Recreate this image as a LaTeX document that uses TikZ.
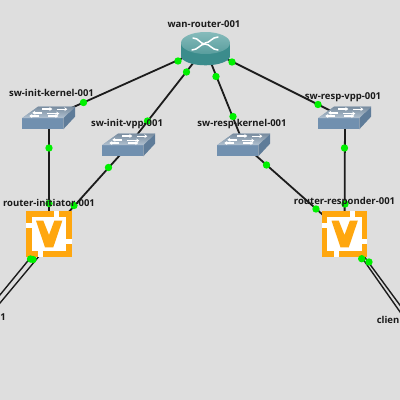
\documentclass[tikz,border=0pt]{standalone}
\usepackage{fontspec}
\setmainfont{Open Sans}
\usetikzlibrary{arrows.meta}
\definecolor{bgc}{HTML}{DEDEDE}
\definecolor{linkc}{HTML}{1C1C1C}
\definecolor{dotc}{HTML}{00F000}
\definecolor{labc}{HTML}{1A1A1A}
\definecolor{swtop}{HTML}{8FA6BC}
\definecolor{swfront}{HTML}{7190AF}
\definecolor{swside}{HTML}{5F7C99}
\definecolor{rtdark}{HTML}{3B8C8C}
\definecolor{rtlight}{HTML}{86BBBB}
\definecolor{vorange}{HTML}{FFA70F}
\tikzset{
  link/.style={draw=linkc,line width=1.8pt},
  dot/.style={circle,fill=dotc,minimum size=7.4pt,inner sep=0pt,draw=none},
  lab/.style={font=\fontsize{9.5}{11}\selectfont\bfseries,text=labc,inner sep=0pt},
  arrowmark/.style={draw=white,line width=1.4pt,-{Stealth[length=3pt,width=4pt]}}
}
\newcommand{\swicon}[2]{%
  \begin{scope}[shift={(#1,#2)}]
    \fill[swside] (41,0) -- (41,11.3) -- (52.7,-1.3) -- (52.7,-11.3) -- cycle;
    \fill[swfront] (0,0) rectangle (41,11.3);
    \fill[swtop,bottom color=swtop!70!white,top color=swtop!85!black] (0,0) -- (15.7,-11.3) -- (52.7,-11.3) -- (41,0) -- cycle;
    \draw[arrowmark] (20,-9) -- (30,-9);
    \draw[arrowmark] (35,-8.8) -- (45,-8.8);
    \draw[arrowmark] (20,-5.2) -- (10,-5.2);
    \draw[arrowmark] (25,-4.4) -- (37,-4.4);
    \draw[arrowmark] (17,-2) -- (7,-2);
    \draw[arrowmark] (26,-2) -- (36,-2);
  \end{scope}}
\newcommand{\vicon}[2]{%
  \begin{scope}[shift={(#1,#2)}]
    \fill[vorange] (0,0) rectangle (45.7,45.7);
    \fill[white] (5.7,5.7) rectangle (40,39.7);
    \fill[white] (28.3,0) rectangle (33.3,6);
    \fill[white] (39.7,28.3) rectangle (45.7,33);
    \fill[white] (12.3,39.5) rectangle (17.3,45.7);
    \fill[white] (0,12.3) rectangle (6,17.3);
    \fill[vorange] (10,9.7) -- (17.3,9.7) -- (23,24) -- (28.3,9.7) -- (36.3,9.7) -- (27.3,36.3) -- (19,36.3) -- cycle;
  \end{scope}}
\begin{document}
\begin{tikzpicture}[x=1pt,y=-1pt]
\useasboundingbox (0,0) rectangle (400,400);
\fill[bgc] (0,0) rectangle (400,400);
\coordinate (wan) at (205,48);
\coordinate (swik) at (49,118);
\coordinate (swiv) at (129,145);
\coordinate (swrk) at (244,145);
\coordinate (swrv) at (345,118);
\coordinate (rti) at (49,234);
\coordinate (rtr) at (344.5,234);
\coordinate (cliA) at (-5,301);
\coordinate (cliB) at (-5,309);
\coordinate (criA) at (405,319);
\coordinate (criB) at (405,312);
\coordinate (rtiA) at (45,240);
\coordinate (rtiB) at (50,243);
\coordinate (rtrA) at (350,240.6);
\coordinate (rtrB) at (355,244);
\draw[link] (wan) -- (swik);
\draw[link] (wan) -- (swiv);
\draw[link] (wan) -- (swrk);
\draw[link] (wan) -- (swrv);
\draw[link] (swik) -- (rti);
\draw[link] (swiv) -- (rti);
\draw[link] (swrk) -- (rtr);
\draw[link] (swrv) -- (rtr);
\draw[link,line width=1.4pt] (rtiA) -- (cliA);
\draw[link,line width=1.4pt] (rtiB) -- (cliB);
\draw[link,line width=1.4pt] (rtrA) -- (criA);
\draw[link,line width=1.4pt] (rtrB) -- (criB);
% router
\fill[rtdark] (181,43) rectangle (230,56);
\fill[rtdark] (205.5,56) ellipse[x radius=24.5,y radius=9.3];
\shade[top color=rtlight,bottom color=rtdark!85!white] (205.5,43) ellipse[x radius=24.5,y radius=11];
\draw[white,line width=1.5pt,line cap=round] (193,38) .. controls (199,38) and (200,44) .. (205,44);
\draw[white,line width=1.5pt,line cap=round] (205,44) .. controls (210,44) and (212,50) .. (218,50);
\draw[white,line width=1.5pt,line cap=round] (218,37) .. controls (212,37) and (210,43) .. (205,43);
\draw[white,line width=1.5pt,line cap=round] (205,44) .. controls (200,44) and (198,50) .. (192,50);
\swicon{22.3}{118}
\swicon{102.3}{145}
\swicon{217.3}{145}
\swicon{318.3}{118}
\vicon{26}{211}
\vicon{321.5}{211}
\foreach \n/\x/\y in {d1/178/61,d2/186.5/72,d3/232/62,d4/216/76.5,d5/83.5/102.5,d6/147.5/121,d7/49/148,d8/108.5/167.5,d9/233/116.5,d10/266.5/165,d11/318/104.5,d12/344.5/148,d13/74/205.5,d14/49/203.5,d15/30.5/259,d16/33/259.5,d17/316/209,d18/345/204,d19/361.7/258.7,d20/369/262}{
  \node[dot] (\n) at (\x,\y) {};
}
\node[lab] (lwan) at (204,24) {wan-router-001};
\node[lab] (lswik) at (51.5,92.5) {sw-init-kernel-001};
\node[lab] (lswiv) at (127,124.5) {sw-init-vpp-001};
\node[lab] (lswrk) at (242,124.5) {sw-resp-kernel-001};
\node[lab] (lswrv) at (343,97.5) {sw-resp-vpp-001};
\node[lab] (lrti) at (49,202.5) {router-initiator-001};
\node[lab] (lrtr) at (344.5,202.5) {router-responder-001};
\node[lab,anchor=west] (lcli) at (0.3,317) {1};
\node[lab,anchor=east] (lcri) at (399.5,320) {clien};
\end{tikzpicture}
\end{document}
